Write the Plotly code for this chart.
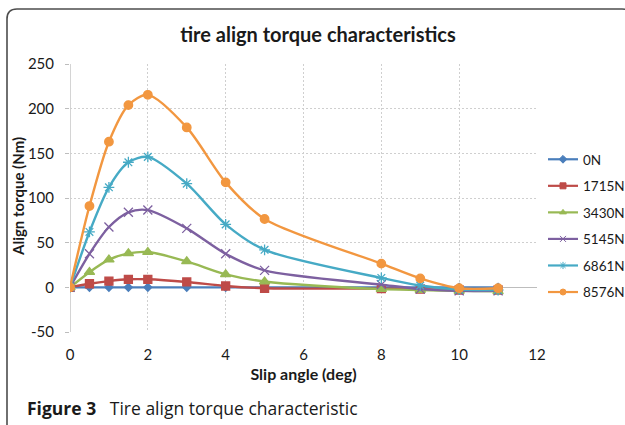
import plotly.graph_objects as go

# Slip angle (deg) sample points
slip_angle = [0, 0.5, 1, 1.5, 2, 3, 4, 5, 8, 9, 10, 11]

# Align torque (Nm) for each vertical load
torque_0N = [0, 0, 0, 0, 0, 0, 0, 0, 0, 0, 0, 0]
torque_1715N = [0, 4, 7, 9, 9, 6, 1.5, -1, -1.5, -2, -3, -3]
torque_3430N = [0, 17, 31, 38, 39.5, 29, 14.5, 6.5, -2, -3, -4, -4.5]
torque_5145N = [0, 37.5, 67.5, 84, 86.5, 66, 37.5, 19, 3, -2, -4, -4]
torque_6861N = [0, 62, 112, 140, 146, 116, 70.5, 42, 10.5, 2, -2.5, -3]
torque_8576N = [0, 91, 163, 204, 215.5, 179, 117.5, 76.5, 26.5, 10, -1, -1]

series_names = ["0N", "1715N", "3430N", "5145N", "6861N", "8576N"]
series_values = [torque_0N, torque_1715N, torque_3430N,
                 torque_5145N, torque_6861N, torque_8576N]
series_colors = ["#4A7EBB", "#BE4B48", "#98B954", "#7D60A0", "#46AAC5", "#F29740"]
series_symbols = ["diamond", "square", "triangle-up", "x-thin-open",
                  "asterisk-open", "circle"]
series_sizes = [6, 8, 9, 9, 9, 8.5]

x_ticks = [0, 2, 4, 6, 8, 10, 12]
y_ticks = [-50, 0, 50, 100, 150, 200, 250]
y_tick_labels = ["-50", "0", "50", "100", "150", "200", "250"]

FONT = "Lato, 'Open Sans', sans-serif"
TEXT = "#1a1a1a"

fig = go.Figure()
for i, (name, vals, col, sym, sz) in enumerate(
        zip(series_names, series_values, series_colors, series_symbols, series_sizes)):
    fig.add_trace(go.Scatter(
        x=slip_angle, y=vals, name=name, mode="lines+markers",
        line=dict(color=col, width=2.4, shape="spline", smoothing=0.8),
        marker=dict(symbol=sym, size=sz, color=col,
                    line=dict(color=col, width=1.3)),
        legendgroup=f"g{i}", showlegend=False,
    ))
# legend entries with the smaller legend symbols
for i, (name, col, sym) in enumerate(zip(series_names, series_colors, series_symbols)):
    fig.add_trace(go.Scatter(
        x=[None], y=[None], name=name, mode="lines+markers",
        line=dict(color=col, width=2.2),
        marker=dict(symbol=sym, size=6, color=col, line=dict(color=col, width=1)),
        legendgroup=f"g{i}", showlegend=True,
    ))

# plot area in pixels: x 70..537, y 64..332
L, R, T, B = 70, 88, 64, 93
W, H = 625, 425
pw, ph = W - L - R, H - T - B

def px(x):
    return (x - L) / pw

def py(y):
    return (H - B - y) / ph

# rounded frame around the figure
x0, y0, x1, y1 = px(7), py(9), px(632), py(440)
rx, ry = 10 / pw, 10 / ph
frame = (f"M {x0},{y1} L {x0},{y0 - ry} Q {x0},{y0} {x0 + rx},{y0} "
         f"L {x1 - rx},{y0} Q {x1},{y0} {x1},{y0 - ry} L {x1},{y1}")

fig.update_layout(
    width=W, height=H,
    margin=dict(l=L, r=R, t=T, b=B, autoexpand=False),
    paper_bgcolor="white", plot_bgcolor="white",
    font=dict(family=FONT, color=TEXT, size=15),
    title=dict(text="<b>tire align torque characteristics</b>",
               xref="container", x=318 / W, xanchor="center",
               y=1 - 35 / H, yanchor="middle",
               font=dict(size=20, family=FONT, color=TEXT)),
    xaxis=dict(range=[0, 12], tickvals=x_ticks, showgrid=True,
               gridcolor="#cfcfcf", griddash="2px,2px", gridwidth=1,
               zeroline=False, showline=False, ticks="",
               ticklabelstandoff=12,
               tickfont=dict(size=15, family=FONT, color=TEXT),
               title=dict(text="<b>Slip angle (deg)</b>", standoff=6,
                          font=dict(size=16, family=FONT, color=TEXT))),
    yaxis=dict(range=[-50, 250], tickvals=y_ticks, ticktext=y_tick_labels,
               showgrid=True,
               gridcolor="#cfcfcf", griddash="2px,2px", gridwidth=1,
               zeroline=True, zerolinecolor="#bdbdbd", zerolinewidth=1.3,
               showline=False, ticks="outside", ticklen=4,
               tickcolor="#bdbdbd", ticklabelstandoff=8,
               tickfont=dict(size=15, family=FONT, color=TEXT)),
    legend=dict(x=px(543), y=py(144), xanchor="left", yanchor="top",
                tracegroupgap=6, bgcolor="rgba(0,0,0,0)",
                font=dict(size=13.5, family=FONT, color=TEXT)),
    shapes=[
        dict(type="path", path=frame, xref="paper", yref="paper",
             line=dict(color="#4d4d4d", width=1.6), layer="below"),
        dict(type="line", xref="x", yref="y", x0=0, x1=0, y0=-50, y1=250,
             line=dict(color="#bdbdbd", width=1.3), layer="below"),
    ],
    annotations=[
        dict(text="<b>Align torque (Nm)</b>", textangle=-90,
             xref="paper", yref="paper", x=px(18), y=py(197),
             xanchor="center", yanchor="middle", showarrow=False,
             font=dict(size=15, family=FONT, color=TEXT)),
        dict(text="<b>Figure 3</b>   Tire align torque characteristic",
             xref="paper", yref="paper", x=px(25), y=py(408),
             xanchor="left", yanchor="middle", showarrow=False,
             font=dict(size=17.5, family="'Open Sans', sans-serif", color=TEXT)),
    ],
)

fig.write_html("out.html")
